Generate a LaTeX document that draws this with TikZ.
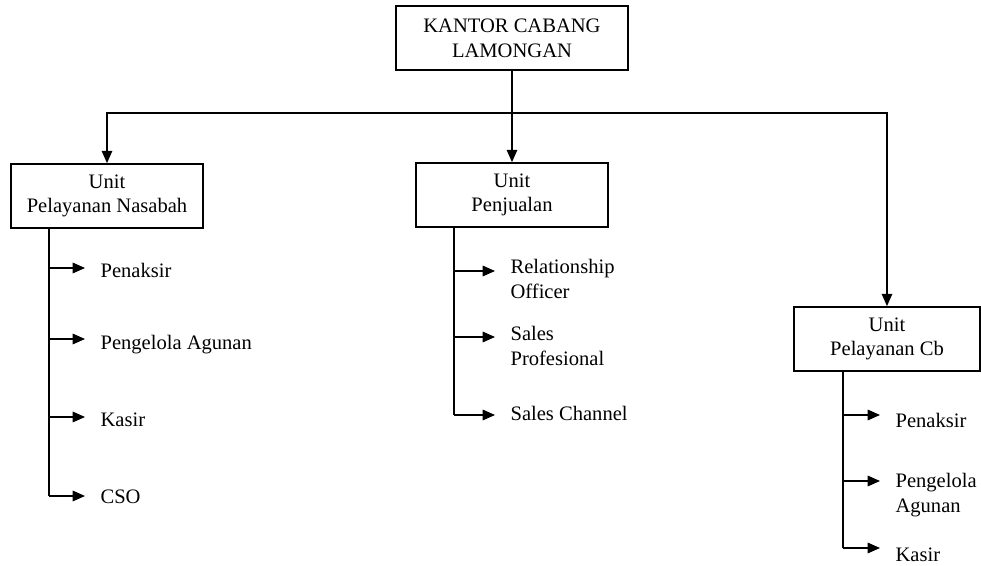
\documentclass[tikz,border=0pt]{standalone}
\usepackage{fontspec}
\setmainfont{Liberation Serif}
\usetikzlibrary{arrows.meta}
\begin{document}
\begin{tikzpicture}[x=0.02cm, y=-0.02cm, line width=0.75pt,
		font=\fontsize{11.7}{14}\selectfont,
		unit/.style={draw, line width=1pt, align=center, minimum height=1.28cm, inner sep=2pt},
		item/.style={anchor=base west, align=left, inner xsep=8.5pt, inner ysep=0pt},
		arr/.style={-{Triangle[length=7pt,width=6pt]}}]
		
		\useasboundingbox (0,0) rectangle (981,565);
		
		\node[unit, minimum width=4.64cm] (kantor) at (512,38) {KANTOR CABANG\\LAMONGAN};
		\node[unit, minimum width=3.84cm] (pn) at (107,196) {Unit\\Pelayanan Nasabah};
		\node[unit, minimum width=3.84cm] (pj) at (512,195) {Unit\\Penjualan};
		\node[unit, minimum width=3.72cm] (cb) at (887,339) {Unit\\Pelayanan Cb};
		
		\coordinate (bus) at (512,113);
		
		\draw[arr] (kantor.south) -- (pj.north);
		\draw[arr] (kantor.south |- bus) -| (pn.north);
		\draw[arr] (kantor.south |- bus) -| (cb.north);
		
		% Unit Pelayanan Nasabah
		\coordinate (pn1) at (49,268);
		\coordinate (pn2) at (49,339);
		\coordinate (pn3) at (49,417);
		\coordinate (pn4) at (49,496);
		
		\node[item] (pn1t) at (85,277) {Penaksir};
		\node[item] (pn2t) at (85,349) {Pengelola Agunan};
		\node[item] (pn3t) at (85,426) {Kasir};
		\node[item] (pn4t) at (85,503) {CSO};
		
		\draw (pn.south -| pn1) -- (pn4);
		\draw[arr] (pn1) -- (pn1 -| pn1t.west);
		\draw[arr] (pn2) -- (pn2 -| pn2t.west);
		\draw[arr] (pn3) -- (pn3 -| pn3t.west);
		\draw[arr] (pn4) -- (pn4 -| pn4t.west);
		
		% Unit Penjualan
		\coordinate (pj1) at (454,271);
		\coordinate (pj2) at (454,337);
		\coordinate (pj3) at (454,415);
		
		\node[item] (pj1t) at (495,298) {Relationship\\Officer};
		\node[item] (pj2t) at (495,365) {Sales\\Profesional};
		\node[item] (pj3t) at (495,420) {Sales Channel};
		
		\draw (pj.south -| pj1) -- (pj3);
		\draw[arr] (pj1) -- (pj1 -| pj1t.west);
		\draw[arr] (pj2) -- (pj2 -| pj2t.west);
		\draw[arr] (pj3) -- (pj3 -| pj3t.west);
		
		% Unit Pelayanan Cb
		\coordinate (cb1) at (843,415);
		\coordinate (cb2) at (843,481);
		\coordinate (cb3) at (843,548);
		
		\node[item] (cb1t) at (880,427) {Penaksir};
		\node[item] (cb2t) at (880,512) {Pengelola\\Agunan};
		\node[item] (cb3t) at (880,561) {Kasir};
		
		\draw (cb.south -| cb1) -- (cb3);
		\draw[arr] (cb1) -- (cb1 -| cb1t.west);
		\draw[arr] (cb2) -- (cb2 -| cb2t.west);
		\draw[arr] (cb3) -- (cb3 -| cb3t.west);
		
	\end{tikzpicture}
\end{document}
